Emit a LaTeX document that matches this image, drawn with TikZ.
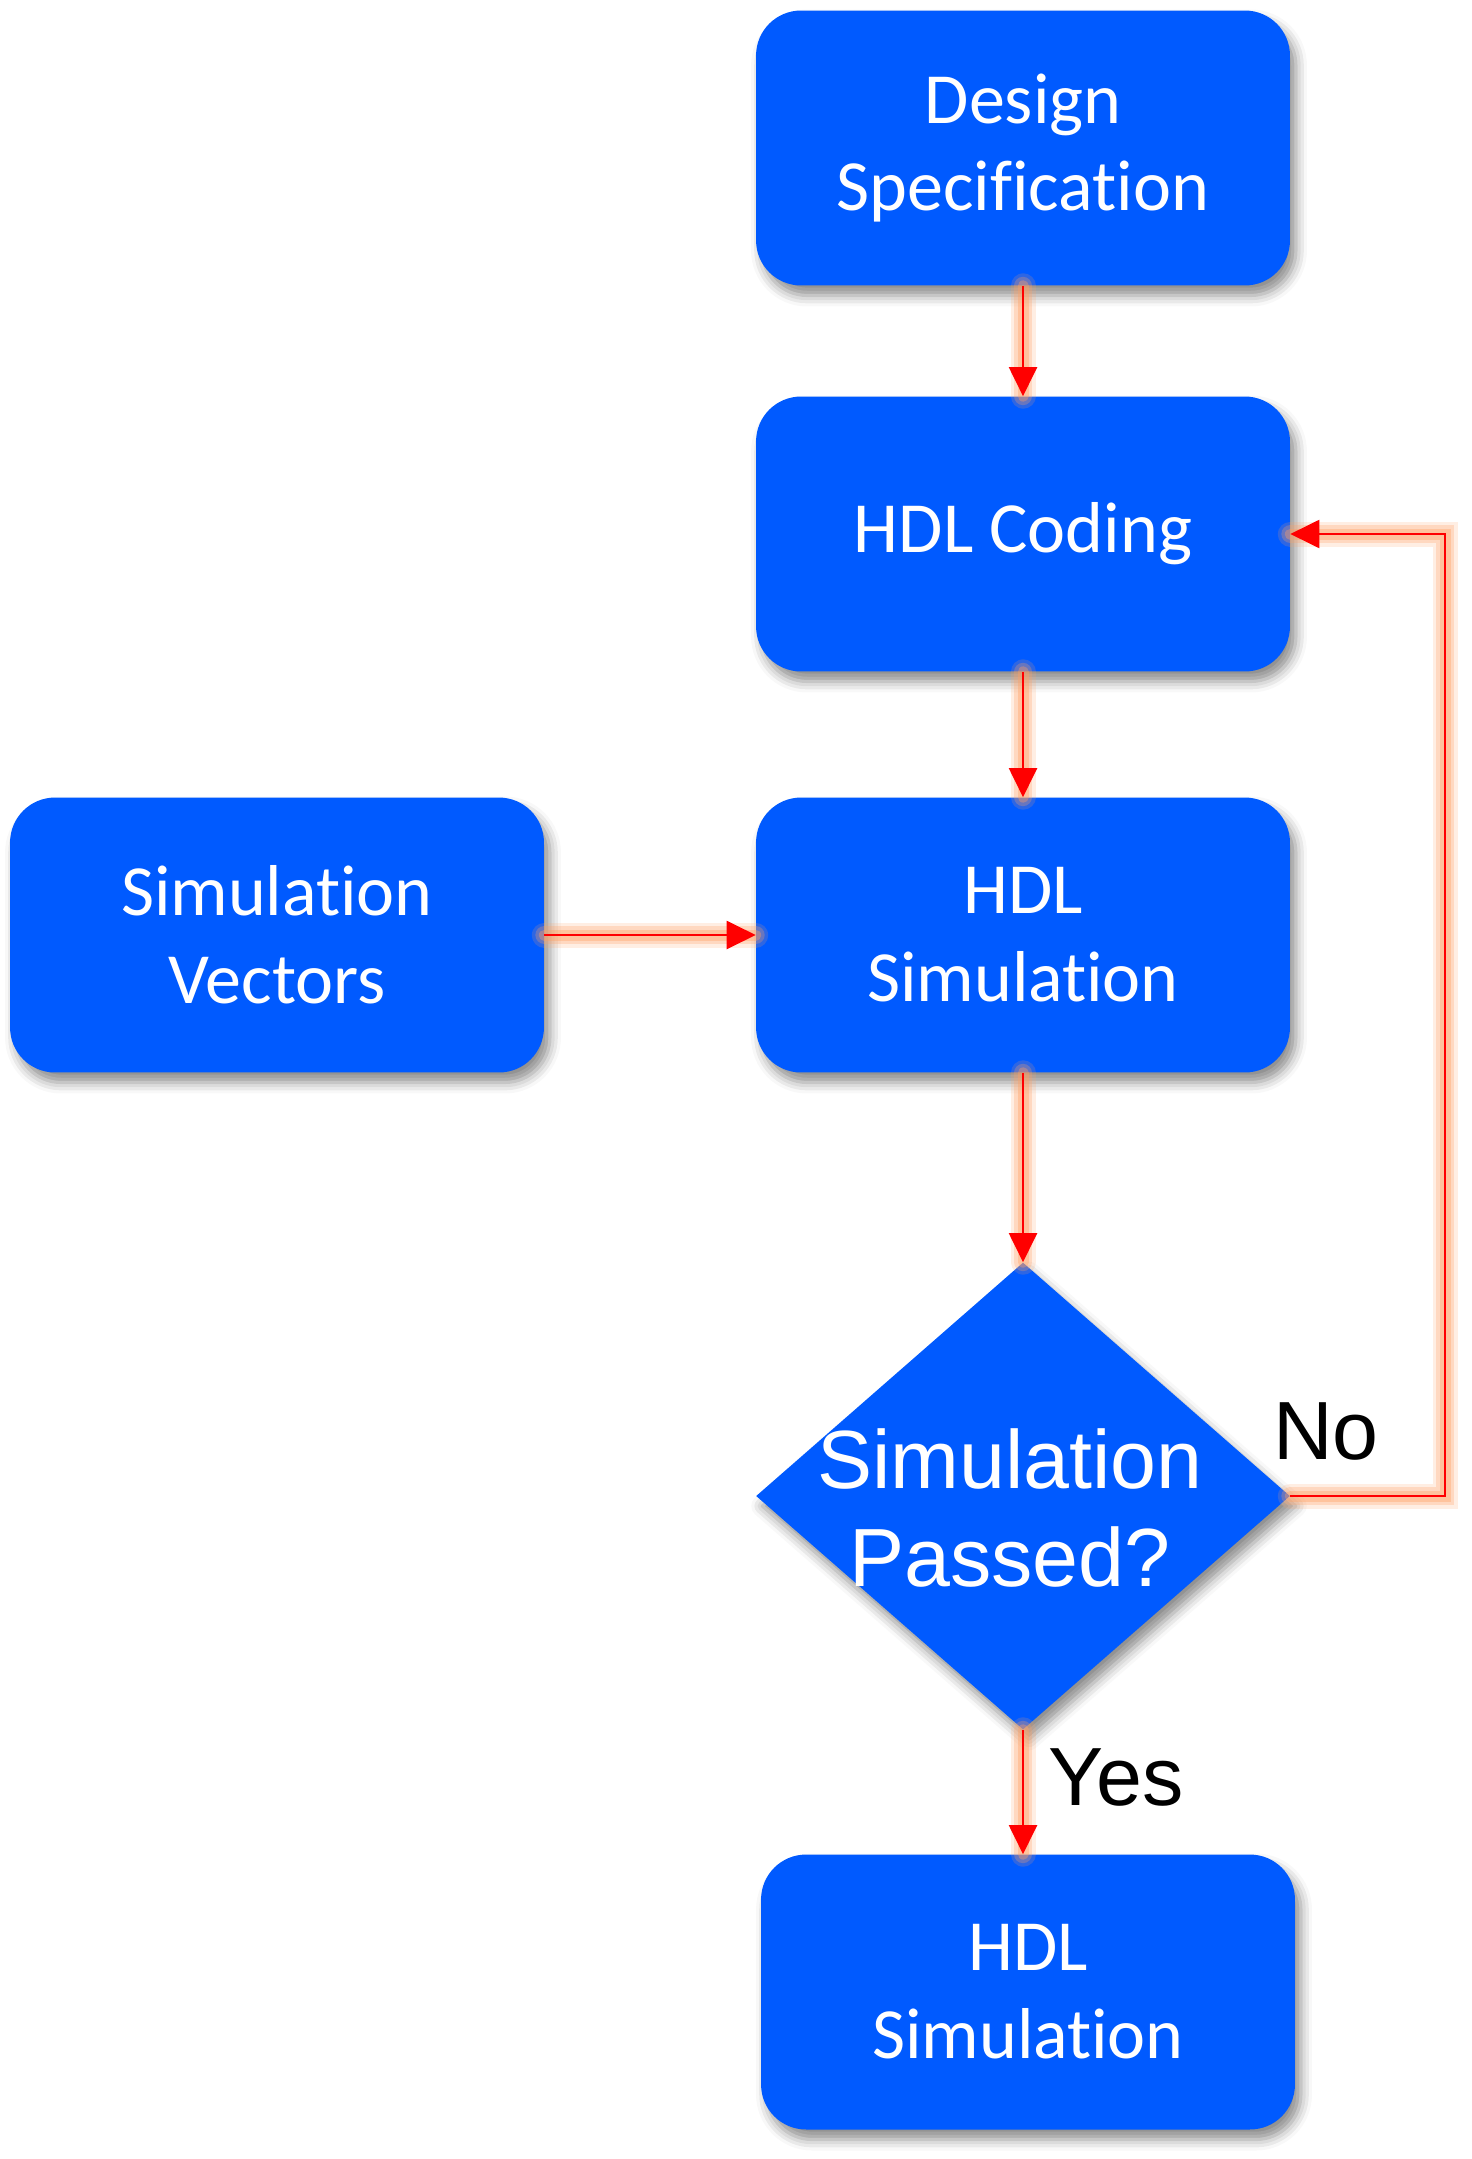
\documentclass[tikz,border=0pt]{standalone}
\usepackage{fontspec}
\setmainfont{Carlito}[Ligatures=NoCommon]
\newfontfamily\arialfont{Liberation Sans}
\usetikzlibrary{shapes.geometric, arrows.meta, shadows.blur}

\definecolor{cajaazul}{RGB}{0,90,255}
\definecolor{brillo}{RGB}{255,160,100}

\tikzset{
  sombra/.style={blur shadow={shadow xshift=0.12cm, shadow yshift=-0.2cm, shadow blur radius=0.22cm, shadow opacity=45}},
  caja/.style={rectangle, rounded corners=0.9cm, fill=cajaazul, text=white, sombra,
    minimum width=10.68cm, minimum height=5.5cm, align=center, font=\fontsize{41}{50}\selectfont},
  decision/.style={diamond, fill=cajaazul, sombra, minimum width=10.68cm, minimum height=9.34cm, inner sep=0pt},
  etiqueta/.style={font=\arialfont\fontsize{47}{56}\selectfont, inner sep=0pt},
  flecha/.style={red, line width=1.2pt, -{Triangle[length=0.58cm, width=0.56cm]},
    preaction={draw=brillo, line width=0.5cm, opacity=0.18, -, line cap=round},
    preaction={draw=brillo, line width=0.36cm, opacity=0.28, -, line cap=round},
    preaction={draw=brillo, line width=0.22cm, opacity=0.38, -, line cap=round}}
}

\begin{document}
\begin{tikzpicture}[x=0.02cm, y=-0.02cm]
\useasboundingbox (0,0) rectangle (1471,2159);

% Cajas
\node[caja] (espec) at (1023,148) {Design\\Specification};
\node[caja] (codigo) at (1023,534) {HDL Coding};
\node[caja] (sim) at (1023,935) {HDL\\Simulation};
\node[caja] (vect) at (277,935) {Simulation\\Vectors};
\node[caja] (sim2) at (1028,1992) {HDL\\Simulation};

% Decision
\node[decision] (decide) at (1023,1496) {};
\node[etiqueta, text=white, align=center] (pregunta) at (1010,1508) {Simulation\\Passed?};
\node[etiqueta] (no) at (1326,1431) {No};
\node[etiqueta] (si) at (1116,1777) {Yes};

% Flechas
\coordinate (vuelta) at (1445,534);
\draw[flecha] (espec) -- (codigo);
\draw[flecha] (codigo) -- (sim);
\draw[flecha] (vect) -- (sim);
\draw[flecha] (sim) -- (decide);
\draw[flecha] (decide.south) -- (decide.south |- sim2.north);
\draw[flecha] (decide.east) -| (vuelta) -- (codigo.east);
\end{tikzpicture}
\end{document}
